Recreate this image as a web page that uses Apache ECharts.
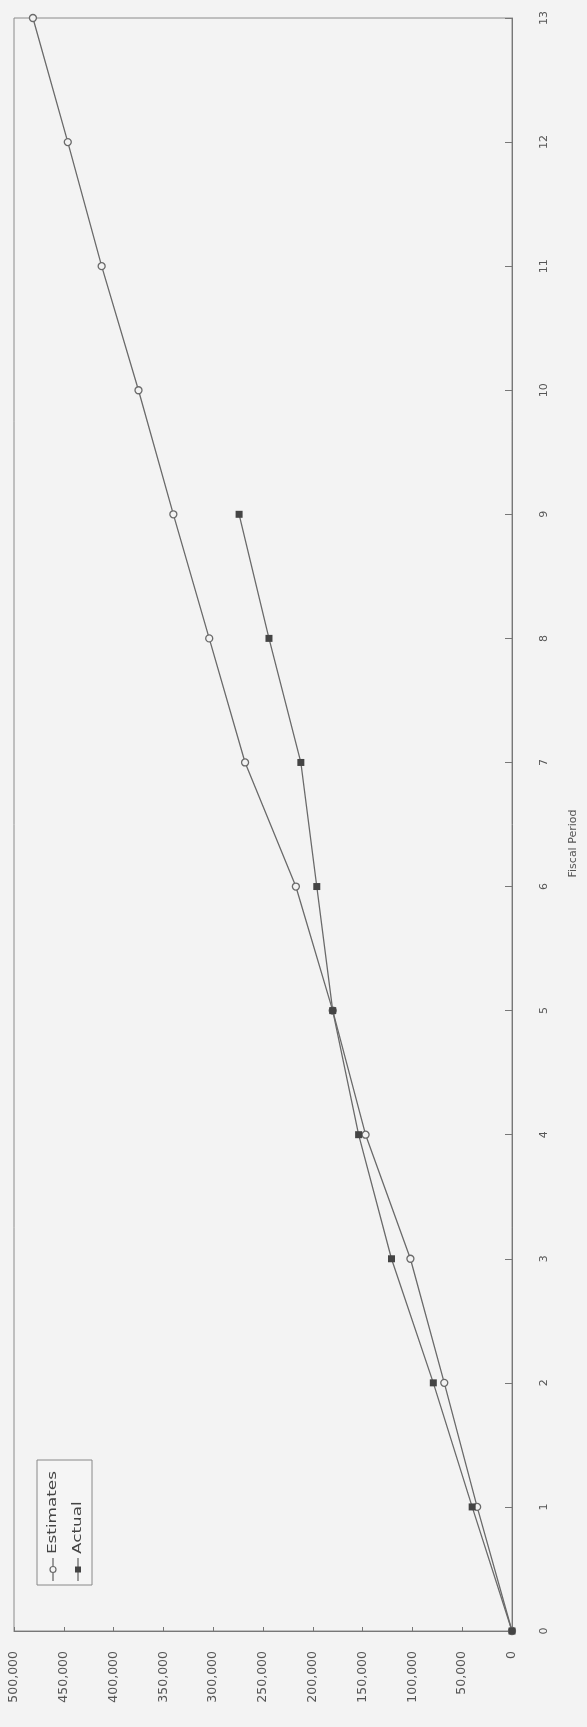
<!DOCTYPE html>
<html>
<head>
<meta charset="utf-8">
<script src="https://cdn.jsdelivr.net/npm/echarts@6/dist/echarts.min.js"></script>
<style>
html,body{margin:0;padding:0;background:#f3f3f3;}
#chart{width:587px;height:1727px;}
</style>
</head>
<body>
<div id="chart"></div>
<script>
// Data (chart drawn rotated 90° counter-clockwise, as in the reference)
const periods = [0,1,2,3,4,5,6,7,8,9,10,11,12,13];
const estimates = [0,35000,68000,102000,147000,180000,217000,268000,304000,340000,375000,412000,446000,481000];
const actualPeriods = [0,1,2,3,4,5,6,7,8,9];
const actual = [0,40000,79000,121000,154000,180000,196000,212000,244000,274000];
const seriesNames = ['Estimates','Actual'];
const axisTitle = 'Fiscal Period';

const lineColor = '#6a6a6a';
const textColor = '#555';
const font = 'DejaVu Sans';

const chart = echarts.init(document.getElementById('chart'));

// rotated legend built from graphic elements
const legendGroup = {
  type: 'group',
  x: 37, y: 1585,
  rotation: Math.PI / 2,
  children: [
    {type:'rect', shape:{x:0,y:0,width:125,height:55}, style:{fill:'#f5f5f5', stroke:'#888', lineWidth:1}},
    {type:'line', shape:{x1:4,y1:16,x2:27,y2:16}, style:{stroke:lineColor, lineWidth:1.3}},
    {type:'circle', shape:{cx:15.5,cy:16,r:3}, style:{fill:'#f5f5f5', stroke:lineColor, lineWidth:1.2}},
    {type:'text', x:31, y:16, scaleX:1.4, style:{text:seriesNames[0], fill:'#444', font:'12px "'+font+'"', verticalAlign:'middle'}},
    {type:'line', shape:{x1:4,y1:41,x2:27,y2:41}, style:{stroke:lineColor, lineWidth:1.3}},
    {type:'rect', shape:{x:12.5,y:38,width:6,height:6}, style:{fill:'#444'}},
    {type:'text', x:31, y:41, scaleX:1.4, style:{text:seriesNames[1], fill:'#444', font:'12px "'+font+'"', verticalAlign:'middle'}}
  ]
};

chart.setOption({
  backgroundColor: '#f3f3f3',
  animation: false,
  grid: {left: 14, right: 72, top: 18, bottom: 96, show: true, borderColor: '#8a8a8a', borderWidth: 1, backgroundColor: 'transparent'},
  xAxis: {
    type: 'value', inverse: true, position: 'bottom',
    min: 0, max: 500000, interval: 50000,
    axisLine: {show: true, lineStyle: {color: '#777', width: 1}},
    axisTick: {show: true, inside: true, length: 4, lineStyle: {color: '#777'}},
    splitLine: {show: false},
    axisLabel: {rotate: 90, margin: 20, color: textColor, fontFamily: font, fontSize: 12.5,
      formatter: v => v.toLocaleString('en-US')}
  },
  yAxis: {
    type: 'value', position: 'right',
    min: 0, max: 13, interval: 1,
    axisLine: {show: true, lineStyle: {color: '#777', width: 1}},
    axisTick: {show: true, inside: true, length: 7, lineStyle: {color: '#777'}},
    splitLine: {show: false},
    axisLabel: {rotate: 90, margin: 27, color: textColor, fontFamily: font, fontSize: 11},
    name: axisTitle, nameLocation: 'middle', nameRotate: 90, nameGap: 56,
    nameTextStyle: {color: textColor, fontFamily: font, fontSize: 11, padding: [0, 38, 0, 0]}
  },
  series: [
    {
      name: seriesNames[0], type: 'line',
      data: estimates.map((v, i) => [v, periods[i]]),
      symbol: 'circle', symbolSize: 7,
      lineStyle: {color: lineColor, width: 1.3},
      itemStyle: {color: '#f3f3f3', borderColor: lineColor, borderWidth: 1.3}
    },
    {
      name: seriesNames[1], type: 'line',
      data: actual.map((v, i) => [v, actualPeriods[i]]),
      symbol: 'rect', symbolSize: 7,
      lineStyle: {color: lineColor, width: 1.3},
      itemStyle: {color: '#444'}
    }
  ],
  graphic: [legendGroup]
});
</script>
</body>
</html>
